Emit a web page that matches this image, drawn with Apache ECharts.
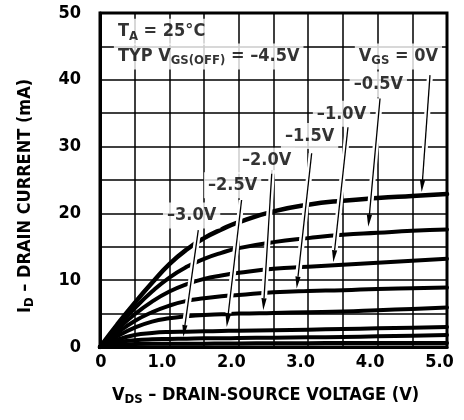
<!DOCTYPE html>
<html><head><meta charset="utf-8">
<script src="https://cdn.jsdelivr.net/npm/echarts@6/dist/echarts.min.js"></script>
<style>html,body{margin:0;padding:0;background:#fff}#c{width:464px;height:420px}</style>
</head><body><div id="c"></div>
<script>
const FONT = "'Liberation Sans Narrow','DejaVu Sans Condensed','Arial Narrow',sans-serif";

// V_DS sample points (V)
const vds = [0, 0.25, 0.5, 0.75, 1.0, 1.25, 1.5, 1.75, 2.0, 2.5, 3.0, 3.5, 4.0, 4.5, 5.0];
// I_D (mA) for each V_GS curve
const id_0V   = [0, 3.4, 6.6, 9.6, 12.4, 14.6, 16.3, 17.6, 18.7, 20.3, 21.3, 21.9, 22.3, 22.6, 22.9];
const id_m05V = [0, 3.0, 5.8, 8.3, 10.4, 12.0, 13.2, 14.1, 14.8, 15.7, 16.3, 16.8, 17.1, 17.4, 17.6];
const id_m10V = [0, 2.6, 4.9, 6.8, 8.3, 9.4, 10.2, 10.7, 11.1, 11.7, 12.0, 12.3, 12.6, 12.9, 13.2];
const id_m15V = [0, 2.1, 3.9, 5.2, 6.2, 6.9, 7.3, 7.6, 7.8, 8.2, 8.4, 8.5, 8.7, 8.8, 8.9];
const id_m20V = [0, 1.6, 2.9, 3.8, 4.3, 4.6, 4.8, 4.9, 5.0, 5.1, 5.2, 5.3, 5.5, 5.7, 5.9];
const id_m25V = [0, 1.1, 1.8, 2.1, 2.25, 2.3, 2.35, 2.4, 2.45, 2.5, 2.6, 2.7, 2.8, 2.9, 3.0];
const id_m30V = [0, 0.7, 1.0, 1.15, 1.2, 1.25, 1.3, 1.3, 1.35, 1.4, 1.45, 1.5, 1.6, 1.7, 1.8];
const id_m35V = [0, 0.3, 0.45, 0.5, 0.5, 0.5, 0.5, 0.52, 0.54, 0.56, 0.58, 0.6, 0.6, 0.6, 0.6];
const curves = [id_0V, id_m05V, id_m10V, id_m15V, id_m20V, id_m25V, id_m30V, id_m35V];
const curveNames = ['0V', '-0.5V', '-1.0V', '-1.5V', '-2.0V', '-2.5V', '-3.0V', '-3.5V'];

// Axis ticks
const xTickValues = [0, 1, 2, 3, 4, 5];
const xTickLabels = ['0', '1.0', '2.0', '3.0', '4.0', '5.0'];
const yTickValues = [0, 10, 20, 30, 40, 50];
const yTickLabels = ['0', '10', '20', '30', '40', '50'];

// Annotation texts and their anchor points (data units)
const noteTexts = ['{m|T}{s|A}{m| = 25°C}', '{m|TYP V}{s|GS(OFF)}{m| = –4.5V}', '{m|V}{s|GS}{m| = 0V}',
  '{m|–0.5V}', '{m|–1.0V}', '{m|–1.5V}', '{m|–2.0V}', '{m|–2.5V}', '{m|–3.0V}'];
const noteX = [0.20, 0.20, 4.30, 4.01, 3.48, 3.02, 2.40, 1.91, 1.32];
const noteY = [47.2, 43.5, 43.5, 39.3, 34.9, 31.6, 27.9, 24.2, 19.7];
const noteAlign = ['left', 'left', 'center', 'center', 'center', 'center', 'center', 'center', 'center'];

// Arrows: start and tip (data units)
const arrowX0 = [4.755, 4.035, 3.573, 3.05, 2.478, 2.04, 1.416];
const arrowY0 = [40.7, 37.2, 32.9, 29.0, 26.5, 22.0, 17.5];
const arrowX1 = [4.635, 3.866, 3.362, 2.834, 2.353, 1.826, 1.20];
const arrowY1 = [23.2, 18.0, 12.7, 8.75, 5.5, 3.0, 1.5];

const rich = {
  m: { fontFamily: FONT, fontWeight: 'bold', fontSize: 18, lineHeight: 22, color: '#000' },
  s: { fontFamily: FONT, fontWeight: 'bold', fontSize: 13, lineHeight: 13, verticalAlign: 'bottom', color: '#000' }
};

const chart = echarts.init(document.getElementById('c'), null, { renderer: 'canvas' });

const series = curves.map((c, i) => ({
  type: 'line', name: curveNames[i], z: 2,
  data: vds.map((v, j) => [v, c[j]]),
  smooth: 0.5, showSymbol: false, silent: true,
  lineStyle: { color: '#000', width: i === 0 ? 4.5 : 4, cap: 'round', join: 'round' }
}));

series.push({
  type: 'custom', coordinateSystem: 'cartesian2d', z: 4, silent: true,
  data: arrowX0.map((_, i) => [arrowX0[i], arrowY0[i], arrowX1[i], arrowY1[i]]),
  renderItem: (params, api) => {
    const p0 = api.coord([api.value(0), api.value(1)]);
    const p1 = api.coord([api.value(2), api.value(3)]);
    const dx = p1[0] - p0[0], dy = p1[1] - p0[1];
    const L = Math.hypot(dx, dy), ux = dx / L, uy = dy / L;
    const hl = 12, hw = 2.6;
    const hb = [p1[0] - ux * hl, p1[1] - uy * hl];
    const he = [p1[0] - ux * (hl + 2), p1[1] - uy * (hl + 2)];
    return { type: 'group', children: [
      { type: 'line', shape: { x1: p0[0], y1: p0[1], x2: he[0], y2: he[1] }, style: { stroke: '#fff', lineWidth: 6 } },
      { type: 'line', shape: { x1: p0[0], y1: p0[1], x2: hb[0], y2: hb[1] }, style: { stroke: '#000', lineWidth: 1.3 } },
      { type: 'polygon', shape: { points: [p1, [hb[0] - uy * hw, hb[1] + ux * hw], [hb[0] + uy * hw, hb[1] - ux * hw]] }, style: { fill: '#000' } }
    ] };
  }
});

series.push({
  type: 'scatter', z: 6, silent: true, symbolSize: 0,
  data: noteTexts.map((t, i) => ({
    value: [noteX[i], noteY[i]],
    label: {
      show: true, formatter: t, rich: rich,
      position: noteAlign[i] === 'left' ? 'right' : 'inside', distance: 0,
      backgroundColor: '#fff', padding: [2, 4, 2, 4]
    }
  }))
});

chart.setOption({
  animation: false,
  backgroundColor: '#fff',
  grid: { left: 100, right: 17, top: 13, bottom: 73, show: true, borderColor: '#000', borderWidth: 3, backgroundColor: 'transparent' },
  xAxis: {
    type: 'value', min: 0, max: 5, interval: 1,
    name: '{m|V}{s|DS}{m| – DRAIN-SOURCE VOLTAGE (V)}', nameLocation: 'middle', nameGap: 37,
    nameTextStyle: { rich: rich, padding: [0, 16, 0, 0] },
    axisLine: { show: true, lineStyle: { color: '#000', width: 3 } },
    axisTick: { show: false },
    splitLine: { show: true, lineStyle: { color: '#000', width: 1.5 } },
    minorTick: { show: false, splitNumber: 2 },
    minorSplitLine: { show: true, lineStyle: { color: '#000', width: 1.5 } },
    axisLabel: {
      margin: 6,
      formatter: v => { const k = xTickValues.indexOf(v); const t = k >= 0 ? xTickLabels[k] : ''; return v === 0 ? '{z|' + t + '}' : '{l|' + t + '}'; },
      rich: {
        z: { fontFamily: FONT, fontWeight: 'bold', fontSize: 18, color: '#000', padding: [0, 0, 0, 2] },
        l: { fontFamily: FONT, fontWeight: 'bold', fontSize: 18, color: '#000', padding: [0, 15, 0, 0] }
      }
    }
  },
  yAxis: {
    type: 'value', min: 0, max: 50, interval: 10,
    name: '{m|I}{s|D}{m| – DRAIN CURRENT (mA)}', nameLocation: 'middle', nameGap: 64,
    nameTextStyle: { rich: rich, padding: [0, 32, 0, 0] },
    axisLine: { show: true, lineStyle: { color: '#000', width: 3 } },
    axisTick: { show: false },
    splitLine: { show: true, lineStyle: { color: '#000', width: 1.5 } },
    minorTick: { show: false, splitNumber: 2 },
    minorSplitLine: { show: true, lineStyle: { color: '#000', width: 1.5 } },
    axisLabel: {
      margin: 19,
      formatter: v => { const k = yTickValues.indexOf(v); return k >= 0 ? yTickLabels[k] : ''; },
      fontFamily: FONT, fontWeight: 'bold', fontSize: 18, color: '#000'
    }
  },
  series: series
});
</script></body></html>
